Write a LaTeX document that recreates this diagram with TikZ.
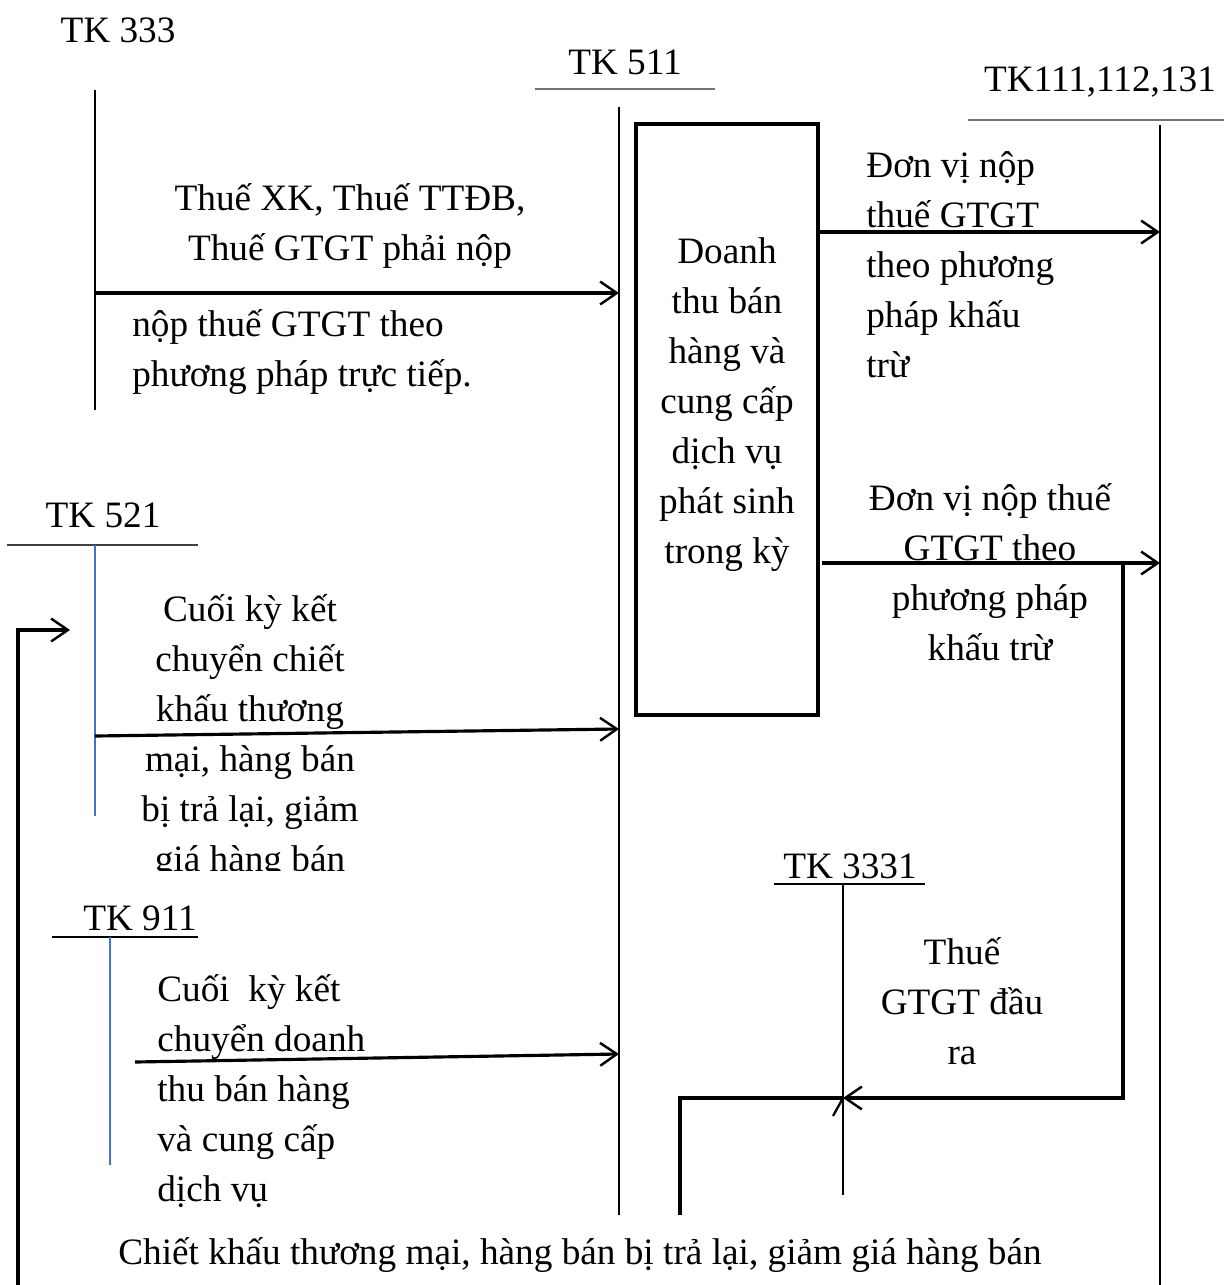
\documentclass[tikz,border=0pt]{standalone}
\usepackage{fontspec}
\setmainfont{Liberation Serif}
\usetikzlibrary{arrows.meta}

\tikzset{
  lbl/.style={font=\fontsize{21.2}{28.45}\selectfont, inner sep=0pt, align=center},
  lblleft/.style={lbl, align=left, anchor=west},
  flow/.style={line width=1.8pt, -{Straight Barb[length=9.5pt,width=13pt,line width=1.4pt]}},
  tline/.style={line width=1.15pt},
  headline/.style={line width=0.8pt, black!55},
  contra/.style={line width=1.1pt, color={rgb,255:red,68;green,114;blue,196}},
}

\begin{document}
\begin{tikzpicture}[x=0.02cm, y=-0.02cm]

\useasboundingbox (0,0) rectangle (1224,1285);

% TK 333
\node[lbl] (t333) at (118,30) {TK 333};
\coordinate (a333top) at (95,90);
\coordinate (a333bot) at (95,410);
\draw[tline] (a333top) -- (a333bot);

% TK 511
\node[lbl] (t511) at (625,62) {TK 511};
\coordinate (h511l) at (535,89);
\coordinate (h511r) at (715,89);
\draw[headline] (h511l) -- (h511r);
\coordinate (a511top) at (619,107);
\coordinate (a511bot) at (619,1215);
\draw[tline] (a511top) -- (a511bot);

% Revenue box
\node[draw, line width=2.5pt, minimum width=3.64cm, minimum height=11.82cm, inner sep=0pt] (rev) at (727,419.5) {};
\node[lbl] (revtxt) at (727,405) {Doanh\\thu bán\\hàng và\\cung cấp\\dịch vụ\\phát sinh\\trong kỳ};

% TK 111,112,131
\node[lbl] (t111) at (1100,82) {TK111,112,131};
\coordinate (h111l) at (968,120);
\coordinate (h111r) at (1224,120);
\draw[headline] (h111l) -- (h111r);
\coordinate (a111top) at (1160,125);
\coordinate (a111bot) at (1160,1285);
\draw[tline] (a111top) -- (a111bot);

% TK 333 -> TK 511
\coordinate (f1s) at (95,293);
\coordinate (f1e) at (619,293);
\draw[flow] (f1s) -- (f1e);
\node[lbl] (tax1) at (350,226) {Thuế XK, Thuế TTĐB,\\Thuế GTGT phải nộp};
\node[lblleft] (tax2) at (132,352) {nộp thuế GTGT theo\\phương pháp trực tiếp.};

% TK 511 -> TK 111
\coordinate (f2e) at (1160,232);
\draw[flow] (rev.east |- f2e) -- (f2e);
\node[lblleft] (out1) at (866,265) {Đơn vị nộp\\thuế GTGT\\theo phương\\pháp khấu\\trừ};

\coordinate (f3s) at (822,563);
\coordinate (f3e) at (1160,563);
\draw[flow] (f3s) -- (f3e);
\node[lbl] (out2) at (990,572) {Đơn vị nộp thuế\\GTGT theo\\phương pháp\\khấu trừ};

% TK 3331
\node[lbl] (t3331) at (850,866) {TK 3331};
\coordinate (h3331l) at (774,884);
\coordinate (h3331r) at (925,884);
\draw[tline] (h3331l) -- (h3331r);
\coordinate (a3331bot) at (843,1195);
\draw[tline] (h3331l -| a3331bot) -- (a3331bot);
\node[lbl] (vat) at (962,1001) {Thuế\\GTGT đầu\\ra};

\coordinate (vs) at (1123,563);
\coordinate (ve) at (843,1098);
\draw[flow] (vs) |- (ve);
\coordinate (tick) at (833,1116);
\draw[line width=1.3pt] (tick) -- (ve);
\coordinate (dn) at (680,1215);
\draw[line width=1.8pt] (ve) -| (dn);

% TK 521
\node[lbl] (t521) at (103,515) {TK 521};
\coordinate (h521l) at (7,545);
\coordinate (h521r) at (198,545);
\draw[headline, black!75] (h521l) -- (h521r);
\coordinate (a521bot) at (95,816);
\draw[contra] (h521l -| a521bot) -- (a521bot);
\coordinate (f4s) at (95,736);
\coordinate (f4e) at (619,729);
\draw[flow] (f4s) -- (f4e);
\begin{scope}
  \clip (120,570) rectangle (400,870);
  \node[lbl] (ret) at (250,737) {Cuối kỳ kết\\chuyển chiết\\khấu thương\\mại, hàng bán\\bị trả lại, giảm\\giá hàng bán};
\end{scope}

% back to TK 521
\coordinate (bk) at (18,1285);
\coordinate (bke) at (70,630);
\draw[flow] (bk) |- (bke);

% TK 911
\node[lbl] (t911) at (140,918) {TK 911};
\coordinate (h911l) at (52,937);
\coordinate (h911r) at (198,937);
\draw[line width=1.1pt] (h911l) -- (h911r);
\coordinate (a911bot) at (110,1165);
\draw[contra] (h911l -| a911bot) -- (a911bot);
\coordinate (f5s) at (135,1062);
\coordinate (f5e) at (619,1054);
\draw[flow] (f5s) -- (f5e);
\node[lblleft] (close) at (157,1091) {Cuối\ \ kỳ kết\\chuyển doanh\\thu bán hàng\\và cung cấp\\dịch vụ};

% Bottom label
\node[lbl] (disc) at (580,1255) {Chiết khấu thương mại, hàng bán bị trả lại, giảm giá hàng bán};

\end{tikzpicture}
\end{document}
